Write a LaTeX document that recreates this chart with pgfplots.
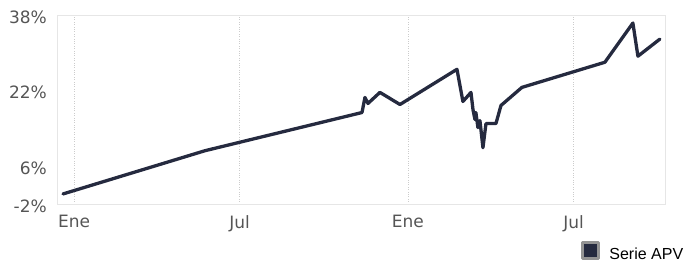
\documentclass[border=0pt]{standalone}
\usepackage{pgfplots}
\pgfplotsset{compat=1.18}
\usepackage{fontspec}
\setmainfont{DejaVu Sans}
\newfontfamily\legfont{Liberation Sans}
\definecolor{navy}{HTML}{252A3F}
\definecolor{ticktext}{HTML}{555555}
\definecolor{framec}{HTML}{E6E6E6}
\definecolor{gridc}{HTML}{CCCCCC}
\begin{document}
\begin{tikzpicture}
\useasboundingbox (-58bp,-59bp) rectangle (628bp,204bp);
\begin{axis}[
  at={(0,0)}, anchor=south west,
  scale only axis, width=607bp, height=189bp,
  xmin=-17.5, xmax=646, ymin=-2, ymax=38,
  axis line style={draw=framec, line width=1bp},
  xtick={0,181,365,546},
  xticklabels={Ene,Jul,Ene,Jul},
  ytick={-2,6,22,38},
  yticklabels={-2\%,6\%,22\%,38\%},
  major tick length=0pt,
  xmajorgrids, grid style={draw=gridc, dotted, line width=0.8bp},
  ticklabel style={font=\fontsize{17bp}{20bp}\selectfont, text=ticktext, inner sep=0pt},
  xticklabel style={anchor=north, yshift=-11bp},
  yticklabel style={anchor=east, xshift=-11bp, yshift=-2bp},
  legend style={at={(0.862,0)}, anchor=west, yshift=-48bp, draw=none, fill=none,
     inner sep=0pt, font=\legfont\fontsize{16bp}{18bp}\selectfont,
     /tikz/every odd column/.append style={column sep=7bp}},
  legend cell align=left,
  legend image code/.code={\draw[fill=navy, draw=gray!85, line width=3bp] (1.5bp,-4.5bp) rectangle (17.5bp,11.5bp);},
]
\addplot[navy, line width=3.3bp, line join=round, line cap=round] coordinates {
(-12.0,0.13) (143.2,9.28) (314.8,17.36) (318.0,20.55) (321.3,19.28) (334.4,21.62)
(356.3,19.06) (418.6,26.51) (425.1,19.70) (433.9,21.62) (436.1,18.0) (438.3,15.87)
(439.3,17.36) (441.5,14.17) (443.7,15.66) (447.0,9.91) (450.3,15.02) (461.2,15.02)
(466.7,18.85) (489.6,22.68) (580.3,28.0) (610.9,36.3) (616.4,29.28) (640.4,32.9)
};
\addlegendentry{Serie APV}
\end{axis}
\end{tikzpicture}
\end{document}
